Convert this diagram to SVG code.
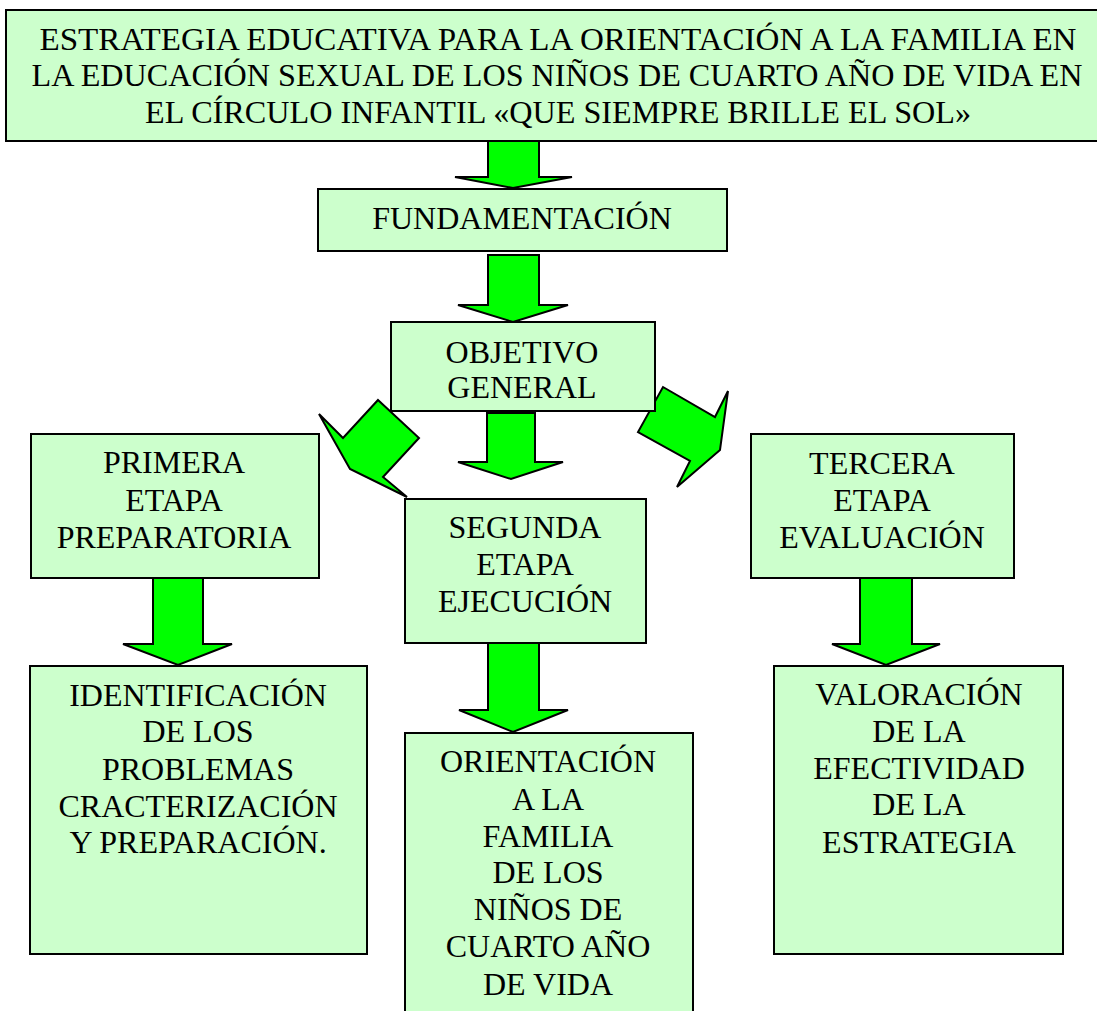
<svg xmlns="http://www.w3.org/2000/svg" width="1097" height="1011" viewBox="0 0 1097 1011">
<style>
.box{fill:#CCFFCC;stroke:#000;stroke-width:2}
.arr{fill:#00FF00;stroke:#000;stroke-width:2;stroke-linejoin:miter}
.t{font-family:'Liberation Serif',serif;font-size:32px;fill:#000;text-anchor:middle}
</style>
<rect width="1097" height="1011" fill="#fff"/>
<g id="connectors">
<polygon class="arr" points="488,141 539,141 539,177 572,177 513,188 455,177 488,177"/>
<polygon class="arr" points="488,255 539,255 539,305 568,305 513,322 458,305 488,305"/>
<polygon class="arr" points="487,413 535,413 535,462 563,462 511,479 458,462 487,462"/>
<polygon class="arr" points="378,400 419,438 383,477 407,497 350,469 319,414 343,438"/>
<polygon class="arr" points="663,387 715,417 728,391 720,450 677,487 690,461 638,432"/>
<polygon class="arr" points="153,578 203,578 203,644 232,644 178,665 123,644 153,644"/>
<polygon class="arr" points="488,643 539,643 539,710 568,710 513,732 459,710 488,710"/>
<polygon class="arr" points="860,578 912,578 912,644 940,644 886,665 832,644 860,644"/>
</g>
<g id="title" class="t">
<rect class="box" x="6" y="10" width="1100" height="131"/>
<text x="558" y="50" textLength="1037" lengthAdjust="spacingAndGlyphs">ESTRATEGIA EDUCATIVA PARA LA ORIENTACIÓN A LA FAMILIA EN</text>
<text x="557" y="86" textLength="1051" lengthAdjust="spacingAndGlyphs">LA EDUCACIÓN SEXUAL DE LOS NIÑOS DE CUARTO AÑO DE VIDA EN</text>
<text x="558" y="123" textLength="826" lengthAdjust="spacingAndGlyphs">EL CÍRCULO INFANTIL «QUE SIEMPRE BRILLE EL SOL»</text>
</g>
<g id="fundamentacion" class="t">
<rect class="box" x="318" y="189" width="409" height="62"/>
<text x="522" y="229">FUNDAMENTACIÓN</text>
</g>
<g id="objetivo" class="t">
<rect class="box" x="391" y="322" width="264" height="89"/>
<text x="522" y="363">OBJETIVO</text>
<text x="522" y="398">GENERAL</text>
</g>
<g id="primera" class="t">
<rect class="box" x="31" y="434" width="288" height="144"/>
<text x="174" y="473">PRIMERA</text>
<text x="174" y="511">ETAPA</text>
<text x="174" y="548">PREPARATORIA</text>
</g>
<g id="segunda" class="t">
<rect class="box" x="405" y="499" width="241" height="144"/>
<text x="525" y="538">SEGUNDA</text>
<text x="525" y="575">ETAPA</text>
<text x="525" y="612">EJECUCIÓN</text>
</g>
<g id="tercera" class="t">
<rect class="box" x="751" y="434" width="263" height="144"/>
<text x="882" y="474">TERCERA</text>
<text x="882" y="511">ETAPA</text>
<text x="882" y="548">EVALUACIÓN</text>
</g>
<g id="identificacion" class="t">
<rect class="box" x="30" y="666" width="337" height="288"/>
<text x="198" y="706">IDENTIFICACIÓN</text>
<text x="198" y="742">DE LOS</text>
<text x="198" y="780">PROBLEMAS</text>
<text x="198" y="817">CRACTERIZACIÓN</text>
<text x="198" y="853">Y PREPARACIÓN.</text>
</g>
<g id="orientacion" class="t">
<rect class="box" x="405" y="733" width="288" height="300"/>
<text x="548" y="772">ORIENTACIÓN</text>
<text x="548" y="810">A LA</text>
<text x="548" y="847">FAMILIA</text>
<text x="548" y="883">DE LOS</text>
<text x="548" y="920">NIÑOS DE</text>
<text x="548" y="957">CUARTO AÑO</text>
<text x="548" y="995">DE VIDA</text>
</g>
<g id="valoracion" class="t">
<rect class="box" x="774" y="666" width="289" height="288"/>
<text x="919" y="705">VALORACIÓN</text>
<text x="919" y="742">DE LA</text>
<text x="919" y="779">EFECTIVIDAD</text>
<text x="919" y="815">DE LA</text>
<text x="919" y="853">ESTRATEGIA</text>
</g>
</svg>
